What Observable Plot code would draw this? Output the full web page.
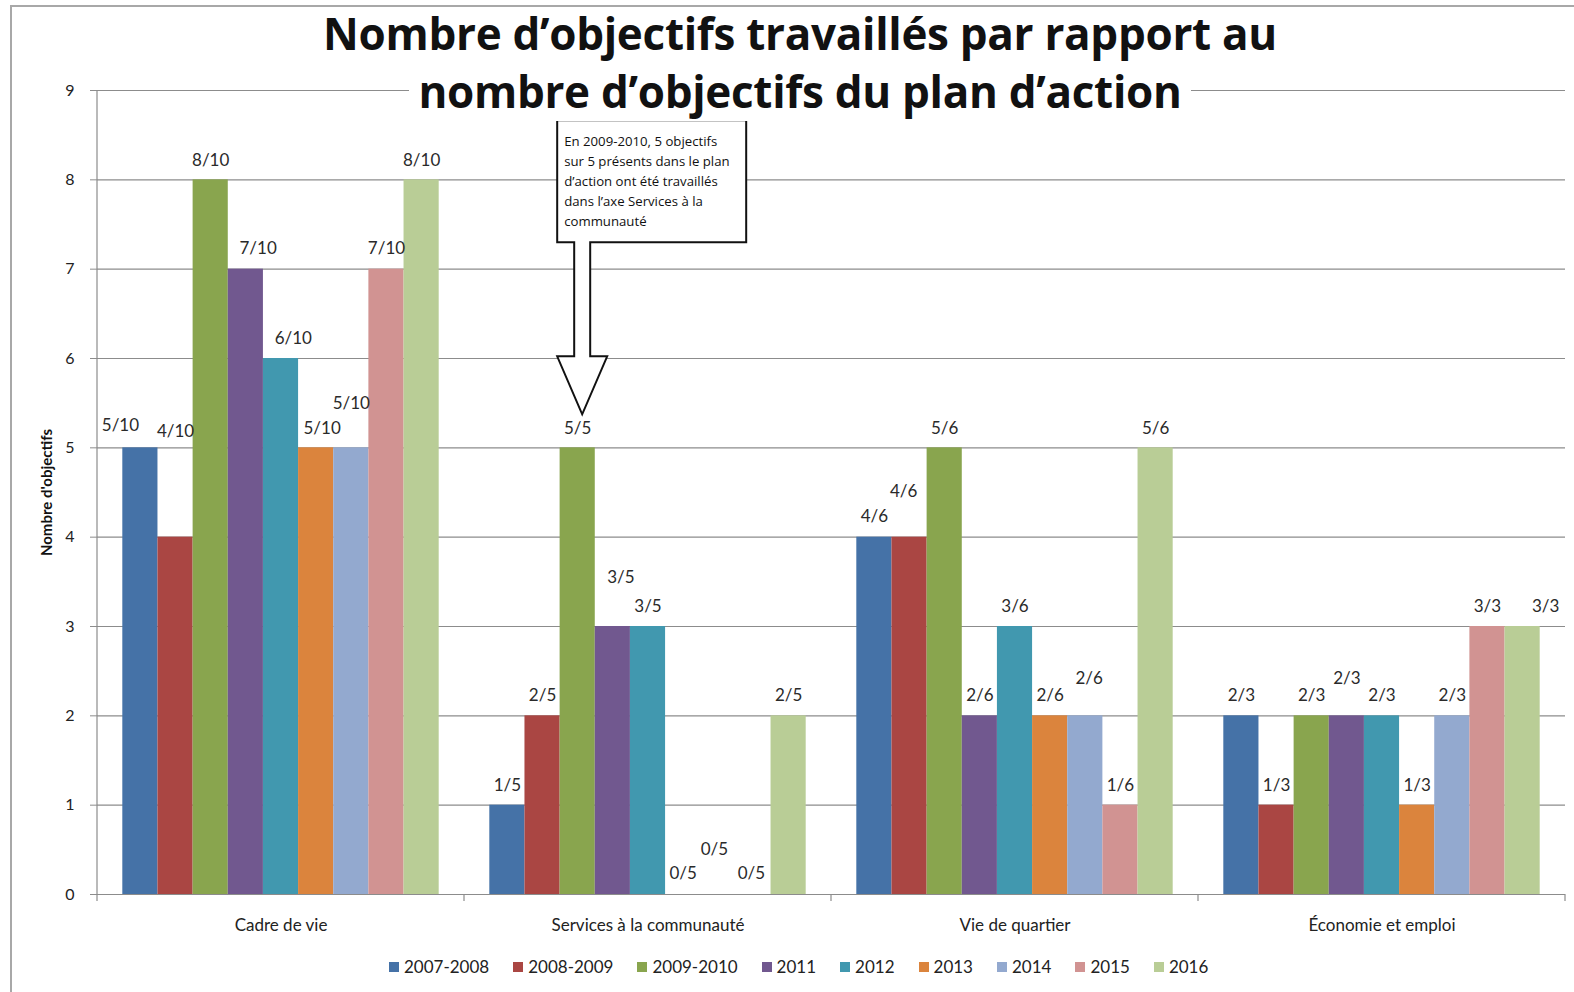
<!DOCTYPE html>
<html>
<head>
<meta charset="utf-8">
<script src="https://cdn.jsdelivr.net/npm/d3@7"></script>
<script src="https://cdn.jsdelivr.net/npm/@observablehq/plot@0.6"></script>
<style>
  body { margin: 0; background: #fff; }
  #wrap { position: relative; width: 1574px; height: 992px; overflow: hidden; font-family: Lato, "Open Sans", sans-serif; }
  #chart svg { background: transparent !important; }
  #frame { position: absolute; left: 10px; top: 5px; width: 1700px; height: 1100px; border-top: 2px solid #a8a8a8; border-left: 2px solid #a8a8a8; pointer-events: none; }
  #title { position: absolute; left: 0; top: 4px; width: 1600px; text-align: center; font-family: "Open Sans", sans-serif; font-weight: 700; font-size: 44px; line-height: 58px; color: #111; letter-spacing: -0.3px; }
  #title span.bg { background: #fff; padding: 0 9px; }
  #legend { position: absolute; top: 957px; left: 389px; display: flex; gap: 24px; font-family: Lato, sans-serif; font-size: 17px; color: #222; line-height: 20px; }
  #legend .item { display: flex; align-items: center; }
  #legend .sw { width: 10px; height: 10px; margin-right: 5px; }
</style>
</head>
<body>
<div id="wrap">
  <div id="chart"></div>
  <div id="frame"></div>
  <div id="title"><span>Nombre d’objectifs travaillés par rapport au</span><br><span class="bg">nombre d’objectifs du plan d’action</span></div>
  <div id="legend"></div>
</div>
<script>
// ---- data ----
const categories = ["Cadre de vie", "Services à la communauté", "Vie de quartier", "Économie et emploi"];
const series = ["2007-2008", "2008-2009", "2009-2010", "2011", "2012", "2013", "2014", "2015", "2016"];
const colors = ["#4572A7", "#AA4643", "#89A54E", "#71588F", "#4198AF", "#DB843D", "#93A9CF", "#D19392", "#B9CD96"];
const totals = [10, 5, 6, 3];

const cadreDeVie    = [5, 4, 8, 7, 6, 5, 5, 7, 8];
const services      = [1, 2, 5, 3, 3, 0, 0, 0, 2];
const vieDeQuartier = [4, 4, 5, 2, 3, 2, 2, 1, 5];
const economie      = [2, 1, 2, 2, 2, 1, 2, 3, 3];

// label anchors (in axis units) as placed in the original chart
const cadreDeVieLabelY    = [5.25, 5.18, 8.22, 7.23, 6.22, 5.22, 5.50, 7.23, 8.22];
const servicesLabelY      = [1.22, 2.23, 5.22, 3.55, 3.22, 0.24, 0.50, 0.24, 2.23];
const vieDeQuartierLabelY = [4.23, 4.51, 5.22, 2.23, 3.22, 2.23, 2.42, 1.22, 5.22];
const economieLabelY      = [2.23, 1.22, 2.23, 2.42, 2.23, 1.22, 2.23, 3.22, 3.22];
// sideways nudges of the labels, in bar widths
const cadreDeVieLabelShift    = [-0.57, 0, 0, 0.35, 0.35, 0.17, 0, 0, 0];
const servicesLabelShift      = [0, 0, 0, 0.23, 0, 0, -0.11, -0.06, 0];
const vieDeQuartierLabelShift = [0, -0.17, 0, 0, 0, 0, 0.11, 0, 0];
const economieLabelShift      = [0, 0, 0, 0, 0, 0, 0, 0, 0.66];

const yTicks = [0, 1, 2, 3, 4, 5, 6, 7, 8, 9];

const calloutLines = ["En 2009-2010, 5 objectifs", "sur 5 présents dans le plan", "d’action ont été travaillés", "dans l’axe Services à la", "communauté"];
const calloutAnchor = {category: "Services à la communauté", series: "2009-2010", y: 5.37};

// ---- build table ----
const valueSets = [cadreDeVie, services, vieDeQuartier, economie];
const labelYSets = [cadreDeVieLabelY, servicesLabelY, vieDeQuartierLabelY, economieLabelY];
const shiftSets = [cadreDeVieLabelShift, servicesLabelShift, vieDeQuartierLabelShift, economieLabelShift];
const rows = categories.flatMap((c, i) => series.map((s, j) => ({
  category: c, series: s, value: valueSets[i][j],
  label: `${valueSets[i][j]}/${totals[i]}`, labelY: labelYSets[i][j], shift: shiftSets[i][j]
})));

const W = 1574, H = 940, mL = 95, mR = 8, mT = 90, mB = 46;
const grey = "#8c8c8c";
const barW = 35;

const shiftGroups = d3.groups(rows, d => d.shift);
const labelMarks = shiftGroups.map(([sh, data]) =>
  Plot.text(data, {fx: "category", x: "series", y: "labelY", text: "label", fontSize: 17, fill: "#2a2a2a", dx: sh * barW}));

const plot = Plot.plot({
  width: W, height: H,
  marginLeft: mL, marginRight: mR, marginTop: mT, marginBottom: mB,
  style: {fontFamily: "Lato, sans-serif", background: "transparent"},
  fx: {domain: categories, padding: 0, label: null},
  x: {domain: series, paddingInner: 0, paddingOuter: 0.72, round: false, axis: null},
  y: {domain: [0, 9]},
  color: {domain: series, range: colors},
  marks: [
    Plot.gridY(yTicks, {stroke: grey, strokeOpacity: 1, strokeWidth: 1.2}),
    Plot.axisY(yTicks, {tickSize: 7, tickPadding: 16, fontSize: 16, stroke: grey, fill: "#222", tickFormat: d3.format("d"),
      label: "Nombre d'objectifs", labelAnchor: "center", labelOffset: 56, labelArrow: "none"}),
    Plot.axisFx({anchor: "bottom", tickSize: 0, tickPadding: 24, fontSize: 17, fill: "#222", label: null}),
    Plot.barY(rows, {fx: "category", x: "series", y: "value", fill: "series"}),
    ...labelMarks
  ]
});
document.getElementById("chart").appendChild(plot);

// bold y-axis label
d3.select(plot).selectAll('[aria-label="y-axis label"] text').attr("font-weight", "bold").attr("font-size", 15).attr("fill", "#111");

// axis lines and category boundary ticks
const fx = plot.scale("fx"), xs = plot.scale("x"), ys = plot.scale("y");
const yMin = Math.min(...ys.range);
const Y = v => mT + (ys.apply(v) - yMin);
const FX = c => fx.apply(c);
const X = (c, s) => FX(c) + (xs.apply(s) - xs.range[0]);
const svg = d3.select(plot);
const deco = svg.append("g").attr("stroke", grey).attr("stroke-width", 1.2);
deco.append("line").attr("x1", FX(categories[0])).attr("x2", FX(categories[0])).attr("y1", Y(9)).attr("y2", Y(0) + 7);
const bounds = categories.slice(1).map(FX).concat([FX(categories[categories.length - 1]) + fx.bandwidth]);
bounds.forEach(b => deco.append("line").attr("x1", b).attr("x2", b).attr("y1", Y(0)).attr("y2", Y(0) + 7));

// callout with arrow
const cx = X(calloutAnchor.category, calloutAnchor.series) + xs.bandwidth / 2 + 5;
const ty = Y(calloutAnchor.y);
const bxL = cx - 25, bxR = cx + 164, bxT = ty - 294, bxB = ty - 172, sh = 8, headT = ty - 58, hw = 25;
const path = [
  [bxL, bxT], [bxR, bxT], [bxR, bxB], [cx + sh, bxB], [cx + sh, headT], [cx + hw, headT],
  [cx, ty], [cx - hw, headT], [cx - sh, headT], [cx - sh, bxB], [bxL, bxB]
];
const cg = svg.append("g");
cg.append("path").attr("d", "M" + path.map(p => p.join(",")).join("L") + "Z")
  .attr("fill", "#fff").attr("stroke", "#111").attr("stroke-width", 2).attr("stroke-linejoin", "miter");
cg.append("text").attr("font-family", "'Open Sans', sans-serif").attr("font-size", 13.2).attr("fill", "#111")
  .attr("text-anchor", "start")
  .selectAll("tspan").data(calloutLines).join("tspan")
  .attr("x", bxL + 7).attr("y", (d, i) => bxT + 26 + i * 20).text(d => d);

// legend
const legend = d3.select("#legend");
series.forEach((s, i) => {
  const it = legend.append("div").attr("class", "item");
  it.append("div").attr("class", "sw").style("background", colors[i]);
  it.append("span").text(s);
});
</script>
</body>
</html>
